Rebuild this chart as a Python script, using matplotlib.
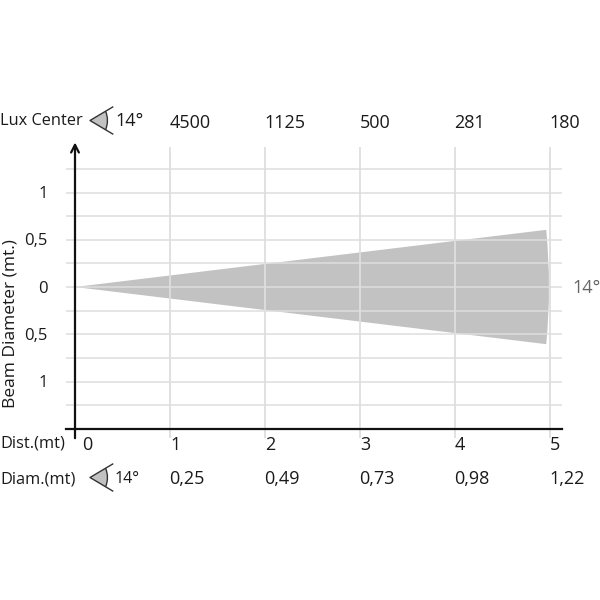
import matplotlib
matplotlib.use('Agg')
import matplotlib.pyplot as plt
from matplotlib.patches import Polygon, PathPatch
from matplotlib.path import Path

plt.rcParams['font.family'] = ['Open Sans', 'DejaVu Sans']

# values
dist = [0, 1, 2, 3, 4, 5]
lux = ['4500', '1125', '500', '281', '180']
diam = ['0,25', '0,49', '0,73', '0,98', '1,22']
y_grid = [-1.25, -1, -0.75, -0.5, -0.25, 0, 0.25, 0.5, 0.75, 1, 1.25]
y_ticks = [-1, -0.5, 0, 0.5, 1]
y_labels = ['1', '0,5', '0', '0,5', '1']
beam_x = [0, 4.96, 5.0, 4.96, 0]
beam_y = [0, 0.605, 0, -0.605, 0]
angle = '14°'

TXT = '#1a1a1a'
GRID = '#dedede'
BEAM = '#c2c2c2'

fig = plt.figure(figsize=(6, 6), dpi=100)
ax = fig.add_axes([75 / 600, 1 - 428.75 / 600, 487 / 600, 283.5 / 600])
ax.set_xlim(0, 487 / 95)
ax.set_ylim(-1.5, 1.5)
ax.axis('off')

# beam: straight sides, curved front edge
path = Path([(beam_x[0], beam_y[0]), (beam_x[1], beam_y[1]),
             (beam_x[2] + 0.02, beam_y[2]), (beam_x[3], beam_y[3]), (beam_x[4], beam_y[4])],
            [Path.MOVETO, Path.LINETO, Path.CURVE3, Path.CURVE3, Path.CLOSEPOLY])
ax.add_patch(PathPatch(path, fc=BEAM, ec='none', zorder=1))

ax.hlines(y_grid, -0.09, 487 / 95, color=GRID, lw=1.1, clip_on=False, zorder=2)
ax.vlines(dist[1:], -1.6, 1.48, color=GRID, lw=1.3, clip_on=False, zorder=2)

# axes
ax.plot([-0.09, 487 / 95], [-1.5, -1.5], color='#111111', lw=1.6, clip_on=False, zorder=3)
ax.annotate('', xy=(0, 1.53), xytext=(0, -1.6), annotation_clip=False, zorder=3,
            arrowprops=dict(arrowstyle='->,head_width=0.28,head_length=0.55', color='#111111', lw=1.6,
                            shrinkA=0, shrinkB=0))

for v, s in zip(y_ticks, y_labels):
    ax.text(-0.29, v - 0.018, s, ha='right', va='center', fontsize=12, color=TXT, clip_on=False)

for d, s in zip(dist[1:], lux):
    ax.text(d - 0.005, 1.74, s, ha='left', va='center', fontsize=13, color=TXT)
for d, s in zip(dist[1:], diam):
    ax.text(d - 0.005, -2.035, s, ha='left', va='center', fontsize=13, color=TXT)
for d, s in zip(dist, dist):
    ax.text(d + 0.08 if d == 0 else d + 0.0, -1.675, str(s), ha='left', va='center', fontsize=13, color=TXT)

# overlay in pixels for the row titles and the small angle icons
ov = fig.add_axes([0, 0, 1, 1], facecolor='none')
ov.set_xlim(0, 600)
ov.set_ylim(600, 0)
ov.axis('off')


def eye(cy):
    ov.add_patch(Polygon([(90, cy), (105.5, cy - 9.5), (107.5, cy), (105.5, cy + 9.5)], fc=BEAM, ec='none'))
    ov.plot([112.7, 90, 112.7], [cy - 13.5, cy, cy + 13.5], color='#333333', lw=1)
    arc = Path([(105.5, cy - 9.5), (109.5, cy), (105.5, cy + 9.5)], [Path.MOVETO, Path.CURVE3, Path.CURVE3])
    ov.add_patch(PathPatch(arc, fc='none', ec='#333333', lw=1))


eye(120.5)
eye(477.5)
ov.text(0, 121, 'Lux Center', ha='left', va='center', fontsize=11.8, color=TXT)
ov.text(115, 121, angle, ha='left', va='center', fontsize=13, color=TXT)
ov.text(0, 443, 'Dist.(mt)', ha='left', va='center', fontsize=11.8, color=TXT)
ov.text(0, 479, 'Diam.(mt)', ha='left', va='center', fontsize=11.8, color=TXT)
ov.text(115, 479, angle, ha='left', va='center', fontsize=11.5, color=TXT)
ov.text(572, 288, angle, ha='left', va='center', fontsize=13, color='#666666')
ov.text(11, 324, 'Beam Diameter (mt.)', rotation=90, ha='center', va='center', fontsize=12.5, color=TXT)

fig.savefig('out.png', dpi=100)
